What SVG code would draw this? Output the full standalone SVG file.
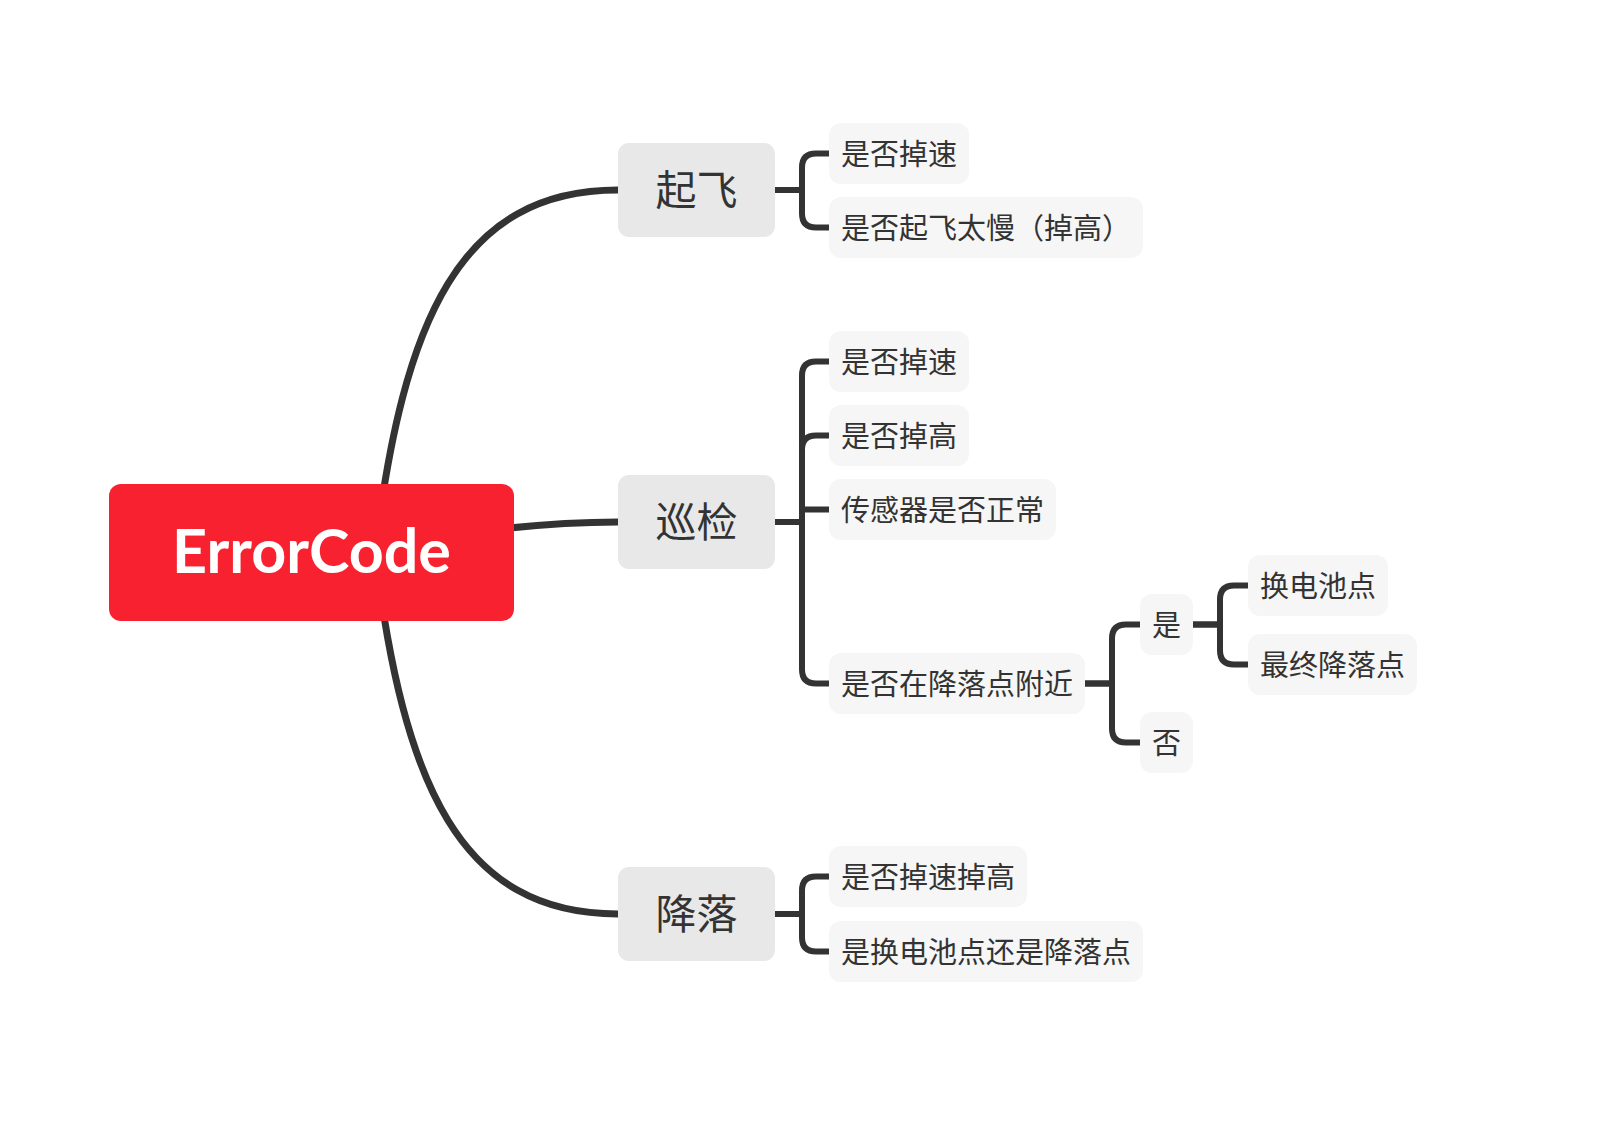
<svg xmlns="http://www.w3.org/2000/svg" width="1603" height="1141" viewBox="0 0 1603 1141">
<style>
.main{fill:none;stroke:#333;stroke-width:7;stroke-linecap:butt}
.sub{fill:none;stroke:#333;stroke-width:6;stroke-linejoin:round}
.l1 rect{fill:#e8e8e8}
.l2 rect{fill:#f6f6f6}
.l1 text{font-family:"Noto Sans CJK SC","Noto Sans",sans-serif;font-size:41px;fill:#333;text-anchor:middle;dominant-baseline:central}
.l2 text{font-family:"Noto Sans CJK SC","Noto Sans",sans-serif;font-size:29px;fill:#333;text-anchor:middle;dominant-baseline:central}
</style>
<rect width="1603" height="1141" fill="#fff"/>
<g id="connectors">
<path class="main" d="M375 552 C403 320 460 190 618 190"/>
<path class="main" d="M375 552 C403 784 460 914 618 914"/>
<path class="main" d="M500 529 C545 524 580 522 618 522"/>
<path class="sub" d="M775 190 H802 V167.5 Q802 153.5 816 153.5 H829"/>
<path class="sub" d="M775 190 H802 V213.5 Q802 227.5 816 227.5 H829"/>
<path class="sub" d="M775 522 H802 V375.5 Q802 361.5 816 361.5 H829"/>
<path class="sub" d="M775 522 H802 V449.5 Q802 435.5 816 435.5 H829"/>
<path class="sub" d="M775 522 H802 V509.5 H829"/>
<path class="sub" d="M775 522 H802 V669.5 Q802 683.5 816 683.5 H829"/>
<path class="sub" d="M1085 683.5 H1112 V638.5 Q1112 624.5 1126 624.5 H1140"/>
<path class="sub" d="M1085 683.5 H1112 V728.5 Q1112 742.5 1126 742.5 H1140"/>
<path class="sub" d="M1193 624.5 H1220 V599.5 Q1220 585.5 1234 585.5 H1248"/>
<path class="sub" d="M1193 624.5 H1220 V650.5 Q1220 664.5 1234 664.5 H1248"/>
<path class="sub" d="M775 914 H802 V890.5 Q802 876.5 816 876.5 H829"/>
<path class="sub" d="M775 914 H802 V937.5 Q802 951.5 816 951.5 H829"/>
</g>
<g id="root">
<rect x="109" y="484" width="405" height="137" rx="12" fill="#f7212f"/>
<text x="311.5" y="573" font-family="Lato,'Open Sans',sans-serif" font-weight="bold" font-size="61" fill="#fff" text-anchor="middle">ErrorCode</text>
</g>
<g id="n-qifei" class="l1"><rect x="618" y="143" width="157" height="94" rx="11"/><text x="696.5" y="187">起飞</text></g>
<g id="n-xunjian" class="l1"><rect x="618" y="475" width="157" height="94" rx="11"/><text x="696.5" y="519">巡检</text></g>
<g id="n-jiangluo" class="l1"><rect x="618" y="867" width="157" height="94" rx="11"/><text x="696.5" y="911">降落</text></g>
<g id="n-qf1" class="l2"><rect x="829" y="123" width="140" height="61" rx="12"/><text x="899" y="151.5">是否掉速</text></g>
<g id="n-qf2" class="l2"><rect x="829" y="197" width="314" height="61" rx="12"/><text x="986" y="225.5">是否起飞太慢（掉高）</text></g>
<g id="n-xj1" class="l2"><rect x="829" y="331" width="140" height="61" rx="12"/><text x="899" y="359.5">是否掉速</text></g>
<g id="n-xj2" class="l2"><rect x="829" y="405" width="140" height="61" rx="12"/><text x="899" y="433.5">是否掉高</text></g>
<g id="n-xj3" class="l2"><rect x="829" y="479" width="227" height="61" rx="12"/><text x="942.5" y="507.5">传感器是否正常</text></g>
<g id="n-xj4" class="l2"><rect x="829" y="653" width="256" height="61" rx="12"/><text x="957" y="681.5">是否在降落点附近</text></g>
<g id="n-yes" class="l2"><rect x="1140" y="594" width="53" height="61" rx="12"/><text x="1166.5" y="622.5">是</text></g>
<g id="n-no" class="l2"><rect x="1140" y="712" width="53" height="61" rx="12"/><text x="1166.5" y="740.5">否</text></g>
<g id="n-huan" class="l2"><rect x="1248" y="555" width="140" height="61" rx="12"/><text x="1318" y="583.5">换电池点</text></g>
<g id="n-zuizhong" class="l2"><rect x="1248" y="634" width="169" height="61" rx="12"/><text x="1332.5" y="662.5">最终降落点</text></g>
<g id="n-jl1" class="l2"><rect x="829" y="846" width="198" height="61" rx="12"/><text x="928" y="874.5">是否掉速掉高</text></g>
<g id="n-jl2" class="l2"><rect x="829" y="921" width="314" height="61" rx="12"/><text x="986" y="949.5">是换电池点还是降落点</text></g>
</svg>
